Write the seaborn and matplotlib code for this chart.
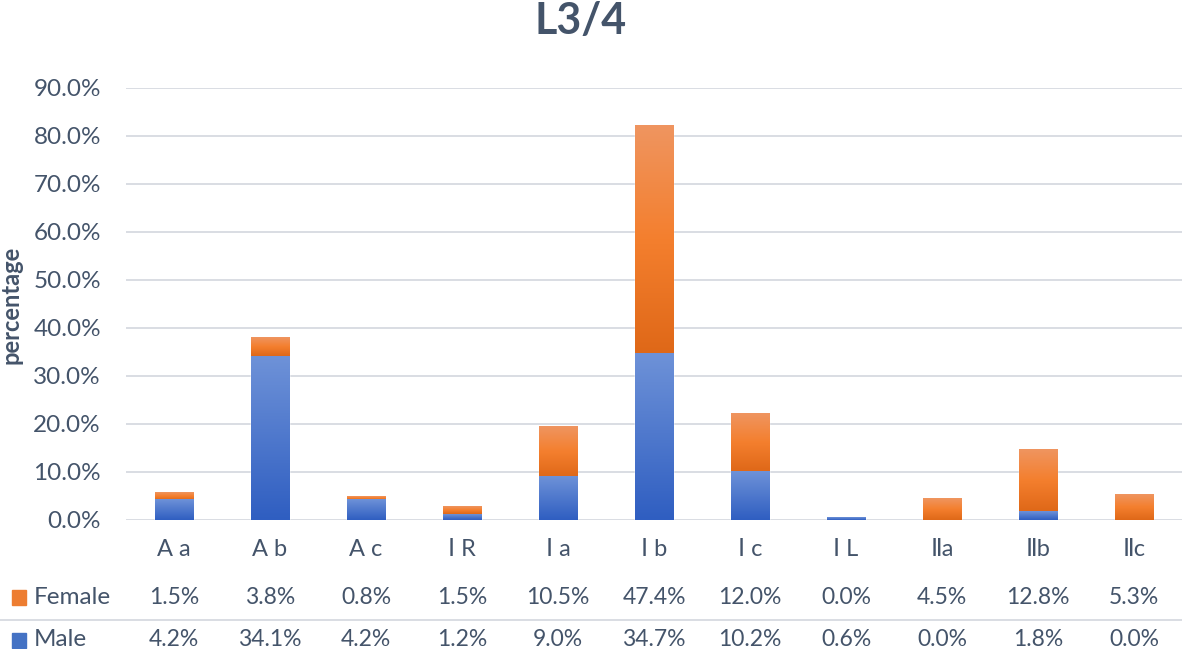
import numpy as np
import pandas as pd
import matplotlib
matplotlib.use("Agg")
import matplotlib.pyplot as plt
import matplotlib.transforms as mtransforms
from matplotlib.colors import LinearSegmentedColormap
from matplotlib.patches import Rectangle
from matplotlib.lines import Line2D
import seaborn as sns

# ---- data ----
categories = ["A a", "A b", "A c", "Ⅰ R", "Ⅰ a", "Ⅰ b", "Ⅰ c", "Ⅰ L", "Ⅱa", "Ⅱb", "Ⅱc"]
female = [1.5, 3.8, 0.8, 1.5, 10.5, 47.4, 12.0, 0.0, 4.5, 12.8, 5.3]
male = [4.2, 34.1, 4.2, 1.2, 9.0, 34.7, 10.2, 0.6, 0.0, 1.8, 0.0]
yticks = [0, 10, 20, 30, 40, 50, 60, 70, 80, 90]
title = "L3/4"
ylabel = "percentage"

TEXT = "#44546A"
ORANGE = "#ED7D31"
BLUE = "#4472C4"
FONT = ["Lato", "DejaVu Sans", "Noto Sans CJK SC"]

sns.set_theme(style="white")
plt.rcParams["font.family"] = FONT

W, H = 1182, 649
fig = plt.figure(figsize=(W / 100, H / 100), dpi=100)
ax = fig.add_axes([126 / W, 1 - 520 / H, (W - 126) / W, 432 / H])

df = pd.DataFrame({"category": categories, "female": female, "male": male})
df["total"] = df["female"] + df["male"]

sns.barplot(data=df, x="category", y="total", color=ORANGE, saturation=1,
            width=0.4, ax=ax, zorder=2)
sns.barplot(data=df, x="category", y="male", color=BLUE, saturation=1,
            width=0.4, ax=ax, zorder=2)

# gradient fill for each bar segment, using the geometry seaborn produced
cmap_o = LinearSegmentedColormap.from_list(
    "o", [(0.0, "#DF6818"), (0.5, "#F47F2E"), (1.0, "#EF9560")])
cmap_b = LinearSegmentedColormap.from_list(
    "b", [(0.0, "#2F5EC1"), (1.0, "#6E92D8")])
grad = np.linspace(0, 1, 256).reshape(-1, 1)
n = len(categories)
patches = list(ax.patches)
for i, p in enumerate(patches[:n]):
    x0, w = p.get_x(), p.get_width()
    y0, y1 = male[i], p.get_height()
    if y1 - y0 > 0:
        ax.imshow(grad, cmap=cmap_o, origin="lower", aspect="auto",
                  extent=[x0, x0 + w, y0, y1], zorder=3, interpolation="bilinear")
for i, p in enumerate(patches[n:2 * n]):
    x0, w = p.get_x(), p.get_width()
    y1 = p.get_height()
    if y1 > 0:
        ax.imshow(grad, cmap=cmap_b, origin="lower", aspect="auto",
                  extent=[x0, x0 + w, 0, y1], zorder=4, interpolation="bilinear")
ax.set_ylim(0, 90)
ax.set_xlim(-0.5, len(categories) - 0.5)

# axes styling
ax.set_axisbelow(True)
ax.yaxis.grid(True, color="#D9DDE3", lw=1.4)
ax.xaxis.grid(False)
for s in ax.spines.values():
    s.set_visible(False)
ax.set_yticks(yticks)
ax.set_yticklabels([f"{v:.1f}%" for v in yticks], fontsize=17.5, color=TEXT)
ax.tick_params(axis="y", length=0, pad=18)
ax.set_xticks(range(n))
ax.set_xticklabels([])
ax.tick_params(axis="x", length=0)
ax.set_xlabel("")
ax.set_ylabel("")

# title and y label
fig.text(581 / W, 1 - 21 / H, title, ha="center", va="center",
         fontsize=31, fontweight="bold", color=TEXT)
fig.text(11 / W, 1 - 305 / H, ylabel, ha="center", va="center", rotation=90,
         fontsize=17, fontweight="bold", color=TEXT)

# data table below the axes
trans = mtransforms.blended_transform_factory(ax.transData, fig.transFigure)
for i, c in enumerate(categories):
    ax.text(i, 1 - 550 / H, c, transform=trans, ha="center",
            va="center", fontsize=17, color=TEXT, clip_on=False)
    ax.text(i, 1 - 597 / H, f"{female[i]:.1f}%", transform=trans, ha="center",
            va="center", fontsize=16.5, color=TEXT, clip_on=False)
    ax.text(i, 1 - 640 / H, f"{male[i]:.1f}%", transform=trans, ha="center",
            va="center", fontsize=16.5, color=TEXT, clip_on=False)

# legend keys in table
fig.patches.append(Rectangle((12 / W, 1 - 605 / H), 14 / W, 15 / H,
                             transform=fig.transFigure, color=ORANGE))
fig.patches.append(Rectangle((12 / W, 1 - 648 / H), 14 / W, 15 / H,
                             transform=fig.transFigure, color=BLUE))
fig.text(34 / W, 1 - 597 / H, "Female", ha="left", va="center", fontsize=17.5, color=TEXT)
fig.text(34 / W, 1 - 640 / H, "Male", ha="left", va="center", fontsize=17.5, color=TEXT)

# separator line between rows
fig.lines.append(Line2D([0, 1], [1 - 620 / H, 1 - 620 / H], transform=fig.transFigure,
                        color="#D9DDE3", lw=1.4))

fig.savefig("out.png", dpi=100, facecolor="white")
